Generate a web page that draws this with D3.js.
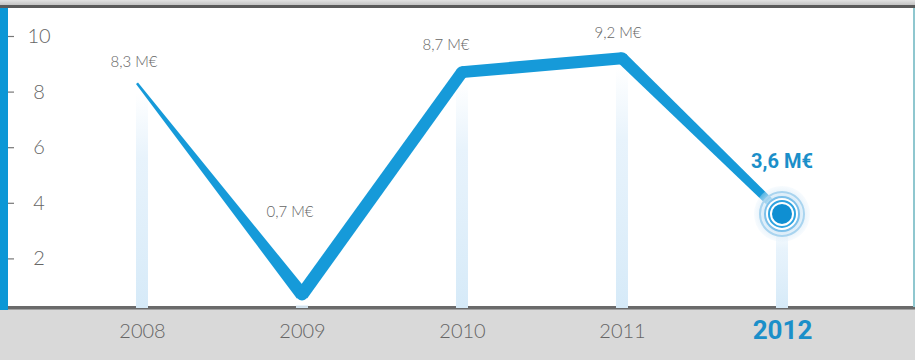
<!DOCTYPE html>
<html><head><meta charset="utf-8">
<script src="https://cdn.jsdelivr.net/npm/d3@7"></script>
<style>html,body{margin:0;padding:0;background:#fff;}svg{display:block;}</style>
</head><body>
<svg id="c" width="915" height="360"></svg>
<script>
const years = ["2008","2009","2010","2011","2012"];
const values = [8.3, 0.7, 8.7, 9.2, 3.6];
const valueLabels = ["8,3 M€","0,7 M€","8,7 M€","9,2 M€","3,6 M€"];
const yTicks = [2,4,6,8,10];

const W = 915, H = 360;
const svg = d3.select("#c");
const font = "Lato, 'Open Sans', sans-serif";

const x = d3.scalePoint().domain(years).range([142, 782]);
const y = d3.scaleLinear().domain([0, 10]).range([314, 36]);
const baseY = 308;

const defs = svg.append("defs");
const g1 = defs.append("linearGradient").attr("id","barG").attr("x1",0).attr("y1",0).attr("x2",0).attr("y2",1);
g1.append("stop").attr("offset","0%").attr("stop-color","#e2f0fb").attr("stop-opacity",0);
g1.append("stop").attr("offset","30%").attr("stop-color","#e2f0fb").attr("stop-opacity",0.8);
g1.append("stop").attr("offset","100%").attr("stop-color","#d6eaf8").attr("stop-opacity",1);
const g2 = defs.append("linearGradient").attr("id","topG").attr("x1",0).attr("y1",0).attr("x2",0).attr("y2",1);
g2.append("stop").attr("offset","0%").attr("stop-color","#e2e2e2");
g2.append("stop").attr("offset","100%").attr("stop-color","#bdbdbd");
const rg = defs.append("radialGradient").attr("id","halo");
rg.append("stop").attr("offset","60%").attr("stop-color","#cfe6f6").attr("stop-opacity",0.9);
rg.append("stop").attr("offset","100%").attr("stop-color","#e6f2fb").attr("stop-opacity",0.3);

// background frame
svg.append("rect").attr("x",0).attr("y",0).attr("width",W).attr("height",H).attr("fill","#fff");
svg.append("rect").attr("x",0).attr("y",0).attr("width",W).attr("height",6).attr("fill","url(#topG)");
svg.append("rect").attr("x",0).attr("y",5).attr("width",W).attr("height",3).attr("fill","#5a5a5a");
svg.append("rect").attr("x",0).attr("y",309).attr("width",W).attr("height",51).attr("fill","#d9d9d9");
svg.append("rect").attr("x",0).attr("y",306).attr("width",W).attr("height",3.5).attr("fill","#6a6a6a");
svg.append("rect").attr("x",0).attr("y",8).attr("width",8).attr("height",302).attr("fill","#0b97d6");
svg.append("rect").attr("x",913).attr("y",8).attr("width",2).attr("height",299).attr("fill","#8fc7cf");

// vertical light bars
svg.append("g").selectAll("rect").data(years).join("rect")
  .attr("x", d => x(d) - 6)
  .attr("y", (d,i) => y(values[i]) + 10)
  .attr("width", 12)
  .attr("height", (d,i) => Math.max(0, baseY - y(values[i]) - 10))
  .attr("fill", "url(#barG)");

// y axis
const yAxis = d3.axisLeft(y).tickValues(yTicks).tickSize(6).tickPadding(0).tickFormat(d3.format("d"));
const ya = svg.append("g").attr("transform","translate(14,0)").call(yAxis);
ya.select(".domain").remove();
ya.selectAll(".tick line").attr("stroke","#777").attr("stroke-width",1.2);
ya.selectAll(".tick text").attr("x",25).attr("text-anchor","middle")
  .attr("fill","#666").attr("font-family",font).attr("font-size",20).attr("font-weight",300);

// x axis labels
const xAxis = d3.axisBottom(x).tickSize(0).tickPadding(0);
const xa = svg.append("g").attr("transform","translate(0,322)").call(xAxis);
xa.select(".domain").remove();
xa.selectAll(".tick text")
  .attr("dy","0.71em")
  .attr("fill", d => d === "2012" ? "#1b8fc9" : "#666")
  .attr("font-family", d => d === "2012" ? "Roboto, 'Liberation Sans', sans-serif" : font)
  .attr("font-size", d => d === "2012" ? 26 : 20)
  .attr("font-weight", d => d === "2012" ? 700 : 300)
  .attr("y", d => d === "2012" ? -1 : 2);

// tapered line
const widths = [2.5, 13, 12, 12, 8];
const pts = years.map((d,i) => [x(d) - (i===0 ? 5 : 0), y(values[i])]);
const lineG = svg.append("g").attr("fill","#169ad9");
for (let i = 0; i < pts.length - 1; i++) {
  const [x0,y0] = pts[i], [x1,y1] = pts[i+1];
  const dx = x1-x0, dy = y1-y0, L = Math.hypot(dx,dy);
  const nx = -dy/L, ny = dx/L;
  const a = widths[i]/2, b = widths[i+1]/2;
  lineG.append("path").attr("d",
    `M${x0+nx*a},${y0+ny*a}L${x1+nx*b},${y1+ny*b}L${x1-nx*b},${y1-ny*b}L${x0-nx*a},${y0-ny*a}Z`);
}
lineG.selectAll("circle").data(pts.slice(1,4)).join("circle")
  .attr("cx", d => d[0]).attr("cy", d => d[1]).attr("r", 6);

// target marker at last point
const lp = pts[4];
const tg = svg.append("g").attr("transform",`translate(${lp[0]},${lp[1]})`);
tg.append("circle").attr("r",28).attr("fill","url(#halo)");
tg.append("circle").attr("r",22).attr("fill","none").attr("stroke","#a9d4ef").attr("stroke-width",2);
tg.append("circle").attr("r",17).attr("fill","#fff").attr("stroke","#7cc0ea").attr("stroke-width",2);
tg.append("circle").attr("r",13).attr("fill","#fff").attr("stroke","#2ea3e0").attr("stroke-width",2);
tg.append("circle").attr("r",10).attr("fill","#0f8fd2");

// value labels
const labelOff = [[-8,-16],[-12,-78],[-16,-22],[-4,-20],[0,-46]];
svg.append("g").selectAll("text").data(valueLabels).join("text")
  .attr("x", (d,i) => x(years[i]) + labelOff[i][0])
  .attr("y", (d,i) => y(values[i]) + labelOff[i][1])
  .attr("text-anchor","middle")
  .attr("fill", (d,i) => i === 4 ? "#1b8fc9" : "#666")
  .attr("font-family", (d,i) => i === 4 ? "Roboto, 'Liberation Sans', sans-serif" : font)
  .attr("font-size", (d,i) => i === 4 ? 20 : 15)
  .attr("font-weight", (d,i) => i === 4 ? 700 : 300)
  .text(d => d);
</script>
</body></html>
